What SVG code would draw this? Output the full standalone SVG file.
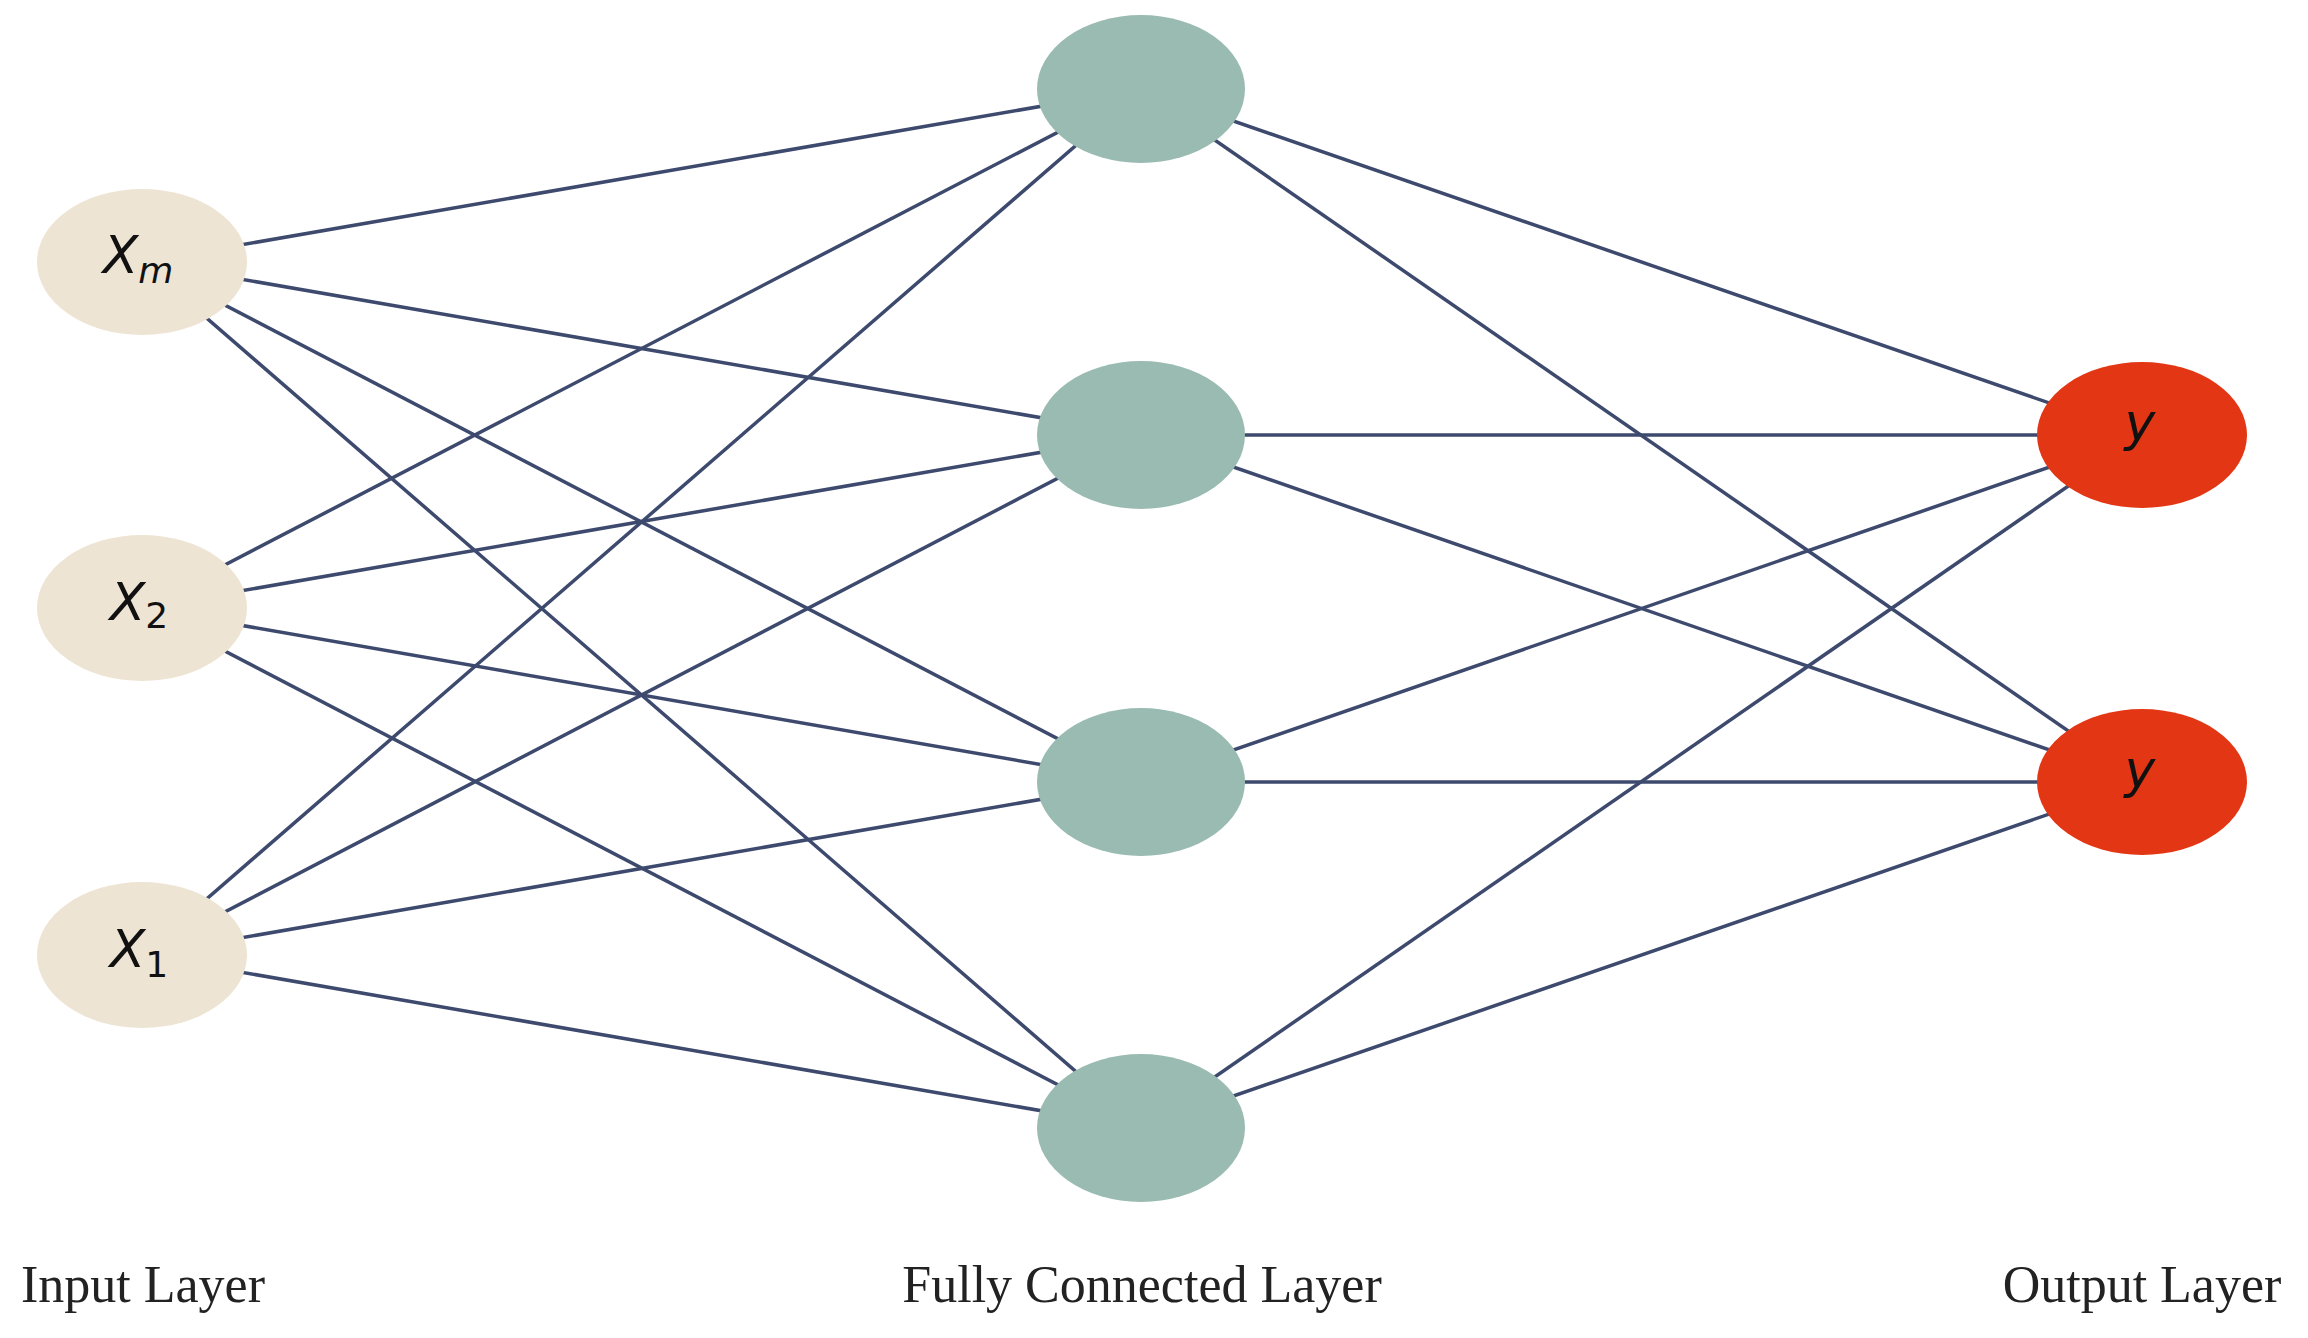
<svg xmlns="http://www.w3.org/2000/svg" width="2308" height="1338" viewBox="0 0 2308 1338">
<style>
.edge{stroke:#3d4a6e;stroke-width:3.5;fill:none}
.in{fill:#eee4d3}
.hid{fill:#9abbb2}
.out{fill:#e33614}
.lbl{font-family:"DejaVu Sans",sans-serif;font-size:52px;font-style:italic;fill:#111;text-anchor:middle}
.sub{font-size:36px}
.up{font-style:normal}
.cap{font-family:"Liberation Serif","Times New Roman",serif;font-size:52px;fill:#222;text-anchor:middle}
</style>
<rect width="2308" height="1338" fill="#ffffff"/>
<g id="connectors">
<line class="edge" x1="142" y1="262" x2="1141" y2="89"/>
<line class="edge" x1="142" y1="262" x2="1141" y2="435"/>
<line class="edge" x1="142" y1="262" x2="1141" y2="782"/>
<line class="edge" x1="142" y1="262" x2="1141" y2="1128"/>
<line class="edge" x1="142" y1="608" x2="1141" y2="89"/>
<line class="edge" x1="142" y1="608" x2="1141" y2="435"/>
<line class="edge" x1="142" y1="608" x2="1141" y2="782"/>
<line class="edge" x1="142" y1="608" x2="1141" y2="1128"/>
<line class="edge" x1="142" y1="955" x2="1141" y2="89"/>
<line class="edge" x1="142" y1="955" x2="1141" y2="435"/>
<line class="edge" x1="142" y1="955" x2="1141" y2="782"/>
<line class="edge" x1="142" y1="955" x2="1141" y2="1128"/>
<line class="edge" x1="1141" y1="89" x2="2142" y2="435"/>
<line class="edge" x1="1141" y1="89" x2="2142" y2="782"/>
<line class="edge" x1="1141" y1="435" x2="2142" y2="435"/>
<line class="edge" x1="1141" y1="435" x2="2142" y2="782"/>
<line class="edge" x1="1141" y1="782" x2="2142" y2="435"/>
<line class="edge" x1="1141" y1="782" x2="2142" y2="782"/>
<line class="edge" x1="1141" y1="1128" x2="2142" y2="435"/>
<line class="edge" x1="1141" y1="1128" x2="2142" y2="782"/>
</g>
<g id="input-xm"><ellipse class="in" cx="142" cy="262" rx="105" ry="73"/><text class="lbl" x="138" y="273">X<tspan class="sub" dy="10">m</tspan></text></g>
<g id="input-x2"><ellipse class="in" cx="142" cy="608" rx="105" ry="73"/><text class="lbl" x="139" y="620">X<tspan class="sub up" dy="8">2</tspan></text></g>
<g id="input-x1"><ellipse class="in" cx="142" cy="955" rx="105" ry="73"/><text class="lbl" x="139" y="967">X<tspan class="sub up" dy="10">1</tspan></text></g>
<g id="hidden-1"><ellipse class="hid" cx="1141" cy="89" rx="104" ry="74"/></g>
<g id="hidden-2"><ellipse class="hid" cx="1141" cy="435" rx="104" ry="74"/></g>
<g id="hidden-3"><ellipse class="hid" cx="1141" cy="782" rx="104" ry="74"/></g>
<g id="hidden-4"><ellipse class="hid" cx="1141" cy="1128" rx="104" ry="74"/></g>
<g id="output-1"><ellipse class="out" cx="2142" cy="435" rx="105" ry="73"/><text class="lbl" x="2140" y="440">y</text></g>
<g id="output-2"><ellipse class="out" cx="2142" cy="782" rx="105" ry="73"/><text class="lbl" x="2140" y="787">y</text></g>
<g id="captions">
<text class="cap" x="143" y="1302">Input Layer</text>
<text class="cap" x="1142" y="1302">Fully Connected Layer</text>
<text class="cap" x="2142" y="1302">Output Layer</text>
</g>
</svg>
